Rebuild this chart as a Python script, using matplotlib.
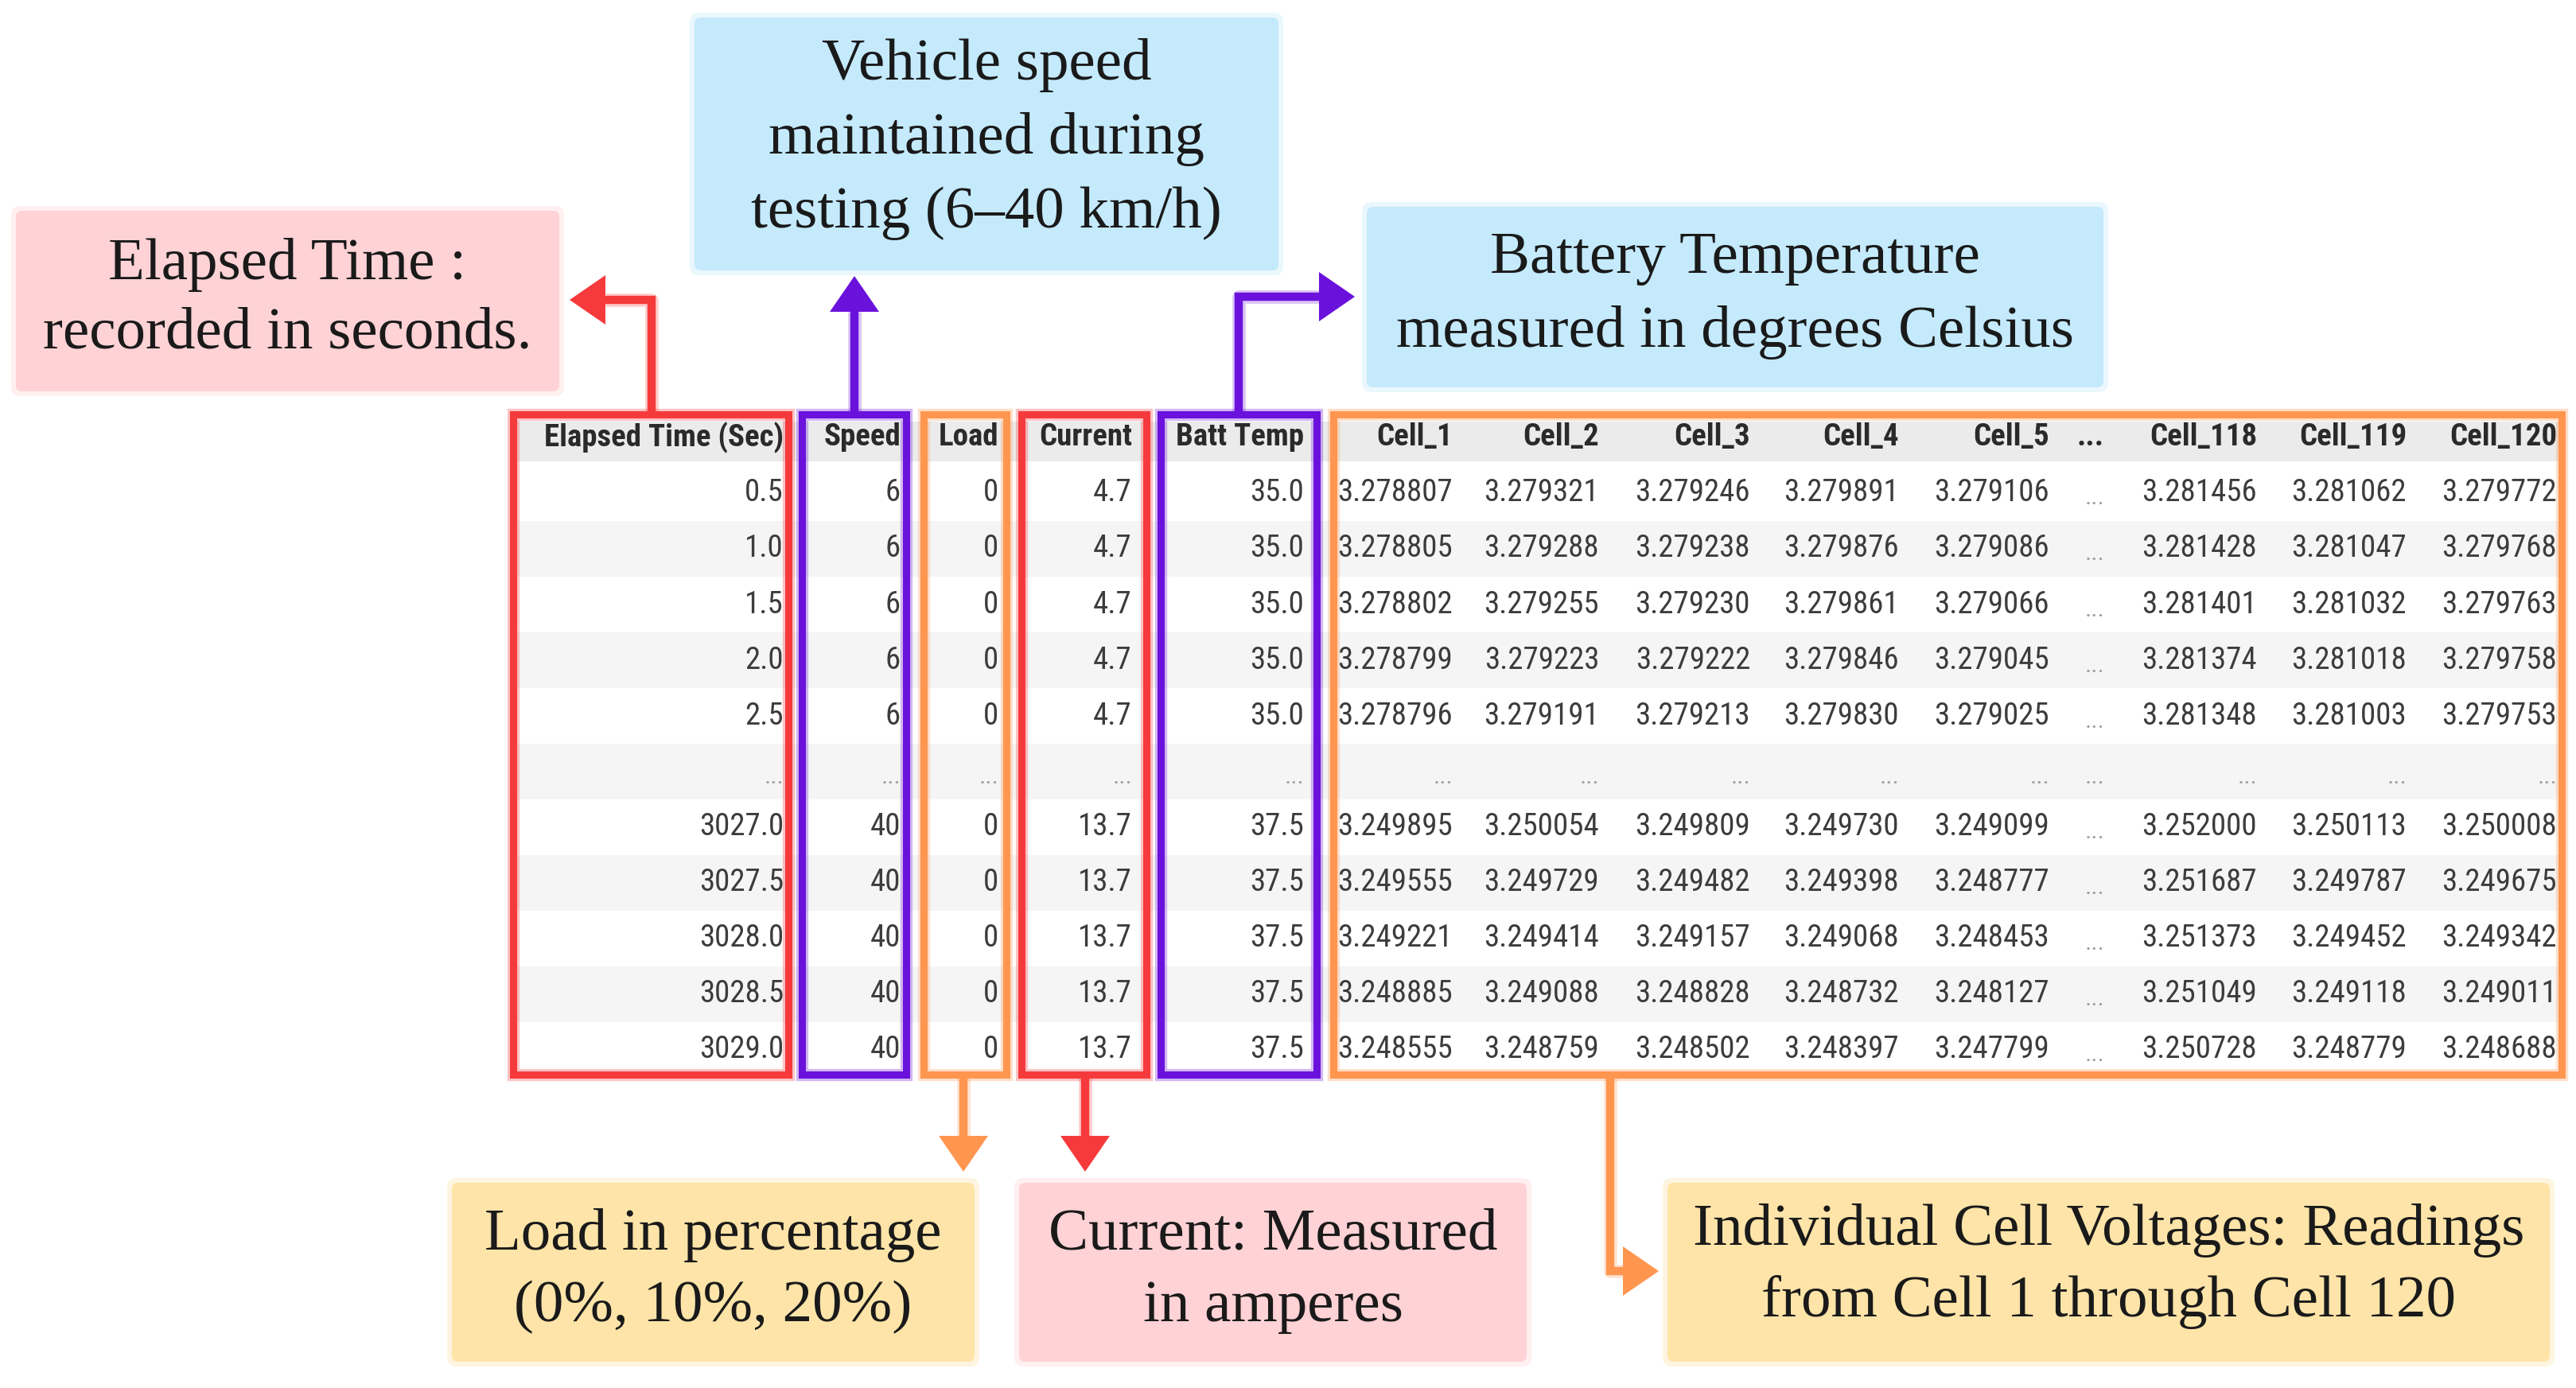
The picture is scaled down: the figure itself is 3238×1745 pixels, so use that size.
import numpy as np
import matplotlib.pyplot as plt
from matplotlib import font_manager
from matplotlib.patches import Rectangle, FancyBboxPatch, Polygon

# ---- table data ----
columns = ["Elapsed Time (Sec)", "Speed", "Load", "Current", "Batt Temp",
           "Cell_1", "Cell_2", "Cell_3", "Cell_4", "Cell_5", "...",
           "Cell_118", "Cell_119", "Cell_120"]

elapsed = [0.5, 1.0, 1.5, 2.0, 2.5, 3027.0, 3027.5, 3028.0, 3028.5, 3029.0]
speed = [6, 6, 6, 6, 6, 40, 40, 40, 40, 40]
load = [0, 0, 0, 0, 0, 0, 0, 0, 0, 0]
current = [4.7, 4.7, 4.7, 4.7, 4.7, 13.7, 13.7, 13.7, 13.7, 13.7]
batt_temp = [35.0, 35.0, 35.0, 35.0, 35.0, 37.5, 37.5, 37.5, 37.5, 37.5]
cell_1 = [3.278807, 3.278805, 3.278802, 3.278799, 3.278796,
          3.249895, 3.249555, 3.249221, 3.248885, 3.248555]
cell_2 = [3.279321, 3.279288, 3.279255, 3.279223, 3.279191,
          3.250054, 3.249729, 3.249414, 3.249088, 3.248759]
cell_3 = [3.279246, 3.279238, 3.279230, 3.279222, 3.279213,
          3.249809, 3.249482, 3.249157, 3.248828, 3.248502]
cell_4 = [3.279891, 3.279876, 3.279861, 3.279846, 3.279830,
          3.249730, 3.249398, 3.249068, 3.248732, 3.248397]
cell_5 = [3.279106, 3.279086, 3.279066, 3.279045, 3.279025,
          3.249099, 3.248777, 3.248453, 3.248127, 3.247799]
cell_118 = [3.281456, 3.281428, 3.281401, 3.281374, 3.281348,
            3.252000, 3.251687, 3.251373, 3.251049, 3.250728]
cell_119 = [3.281062, 3.281047, 3.281032, 3.281018, 3.281003,
            3.250113, 3.249787, 3.249452, 3.249118, 3.248779]
cell_120 = [3.279772, 3.279768, 3.279763, 3.279758, 3.279753,
            3.250008, 3.249675, 3.249342, 3.249011, 3.248688]

callout_elapsed = ["Elapsed Time :", "recorded in seconds."]
callout_speed = ["Vehicle speed", "maintained during", "testing (6\u201340 km/h)"]
callout_temp = ["Battery Temperature", "measured in degrees Celsius"]
callout_load = ["Load in percentage", "(0%, 10%, 20%)"]
callout_current = ["Current: Measured", "in amperes"]
callout_cells = ["Individual Cell Voltages: Readings", "from Cell 1 through Cell 120"]

# ---- colours ----
RED, PURPLE, ORANGE = "#f63a3c", "#6a12dc", "#ff9650"
PINK, BLUE, YELLOW = "#ffd2d5", "#c4eafc", "#fee4a8"

# narrow sans for the table, whatever is installed
fonts = font_manager.fontManager.ttflist
names = {f.name for f in fonts}
TSTRETCH = "normal"
if "Liberation Sans Narrow" in names:
    TFONT, TSIZE = "Liberation Sans Narrow", 30
elif "Roboto Condensed" in names:
    TFONT, TSIZE = "Roboto Condensed", 28
elif any(f.name == "DejaVu Sans" and f.stretch == "condensed" for f in fonts):
    TFONT, TSIZE, TSTRETCH = "DejaVu Sans", 24, "condensed"
else:
    TFONT, TSIZE = "DejaVu Sans", 22
SERIF = "Liberation Serif"


def fmt_rows():
    cols = [[f"{v:.1f}" for v in elapsed], [str(v) for v in speed],
            [str(v) for v in load], [f"{v:.1f}" for v in current],
            [f"{v:.1f}" for v in batt_temp]]
    cells = [cell_1, cell_2, cell_3, cell_4, cell_5, None,
             cell_118, cell_119, cell_120]
    for c in cells:
        cols.append(["..."] * 10 if c is None else [f"{v:.6f}" for v in c])
    return cols


fig = plt.figure(figsize=(32.38, 17.45), dpi=100)
ax = fig.add_axes([0, 0, 1, 1])
ax.set_xlim(0, 3238)
ax.set_ylim(1745, 0)
ax.axis("off")

# ---- table geometry (pixels) ----
right_edge = [985, 1132, 1255, 1423, 1639, 1826, 2010, 2200, 2387, 2576,
              2645, 2837, 3025, 3214]
tab_left, tab_right = 641, 3225
head_y, row0, row_h = 550, 620, 70

ax.add_patch(Rectangle((tab_left, 530), tab_right - tab_left, 50,
                       color="#ebebeb", lw=0, zorder=1))
for i in range(11):
    if i % 2 == 1:
        ax.add_patch(Rectangle((tab_left, row0 - 35 + i * row_h),
                               tab_right - tab_left, row_h,
                               color="#f5f5f5", lw=0, zorder=1))

for name, x in zip(columns, right_edge):
    ax.text(x, head_y, name, ha="right", va="center", family=TFONT,
            fontsize=TSIZE, weight="bold", fontstretch=TSTRETCH,
            color="#2a2a2a", zorder=3)

cols = fmt_rows()
for c, (vals, x) in enumerate(zip(cols, right_edge)):
    rows = vals[:5] + ["..."] + vals[5:]
    for i, s in enumerate(rows):
        y = row0 + i * row_h
        if s == "...":
            ax.text(x, y + 6, "...", ha="right", va="center", family=TFONT,
                    fontsize=TSIZE * 0.8, color="#a0a0a0", zorder=3)
        else:
            ax.text(x, y, s, ha="right", va="center", family=TFONT,
                    fontsize=TSIZE, fontstretch=TSTRETCH,
                    color="#3c3c3c", zorder=3)

# ---- coloured column frames ----
frames = [(645, 991, RED), (1008, 1139, PURPLE), (1161, 1265, ORANGE),
          (1284, 1441, RED), (1459, 1655, PURPLE), (1676, 3220, ORANGE)]
for x0, x1, col in frames:
    ax.add_patch(Rectangle((x0, 521), x1 - x0, 830, fill=False, ec=col,
                           lw=11, alpha=0.3, zorder=4))
    ax.add_patch(Rectangle((x0, 521), x1 - x0, 830, fill=False, ec=col,
                           lw=6.5, zorder=5))


def arrow(pts, col, hl=45, hw=31):
    pts = np.asarray(pts, float)
    tip, prev = pts[-1], pts[-2]
    d = (tip - prev) / np.linalg.norm(tip - prev)
    base = tip - d * hl
    line = np.vstack([pts[:-1], base])
    ax.plot(line[:, 0], line[:, 1], color=col, lw=12, alpha=0.25,
            solid_capstyle="butt", zorder=4)
    ax.plot(line[:, 0], line[:, 1], color=col, lw=7.5,
            solid_capstyle="butt", solid_joinstyle="miter", zorder=5)
    n = np.array([-d[1], d[0]])
    ax.add_patch(Polygon([tip, base + n * hw, base - n * hw], closed=True,
                         color=col, lw=0, zorder=5))


arrow([(819, 517), (819, 377), (716, 377)], RED)
arrow([(1074, 517), (1074, 347)], PURPLE)
arrow([(1557, 517), (1557, 373), (1703, 373)], PURPLE)
arrow([(1211, 1354), (1211, 1473)], ORANGE)
arrow([(1364, 1354), (1364, 1473)], RED)
arrow([(2024, 1354), (2024, 1598), (2085, 1598)], ORANGE)


def callout(x0, y0, x1, y1, fill, lines, ys):
    ax.add_patch(FancyBboxPatch((x0 - 6, y0 - 6), x1 - x0 + 12, y1 - y0 + 12,
                                boxstyle="round,pad=0,rounding_size=12",
                                fc=fill, ec="none", alpha=0.35, zorder=2))
    ax.add_patch(FancyBboxPatch((x0, y0), x1 - x0, y1 - y0,
                                boxstyle="round,pad=0,rounding_size=8",
                                fc=fill, ec="none", zorder=3))
    cx = (x0 + x1) / 2
    for s, y in zip(lines, ys):
        ax.text(cx, y, s, ha="center", va="center", family=SERIF,
                fontsize=54, color="#1a1a1a", zorder=6)


callout(20, 265, 703, 492, PINK, callout_elapsed, [333, 420])
callout(873, 22, 1607, 340, BLUE, callout_speed, [82, 175, 268])
callout(1718, 260, 2644, 487, BLUE, callout_temp, [325, 418])
callout(568, 1487, 1225, 1712, YELLOW, callout_load, [1553, 1643])
callout(1281, 1487, 1919, 1712, PINK, callout_current, [1553, 1643])
callout(2096, 1487, 3205, 1712, YELLOW, callout_cells, [1547, 1637])

fig.savefig("out.png", dpi=100)
plt.close(fig)
